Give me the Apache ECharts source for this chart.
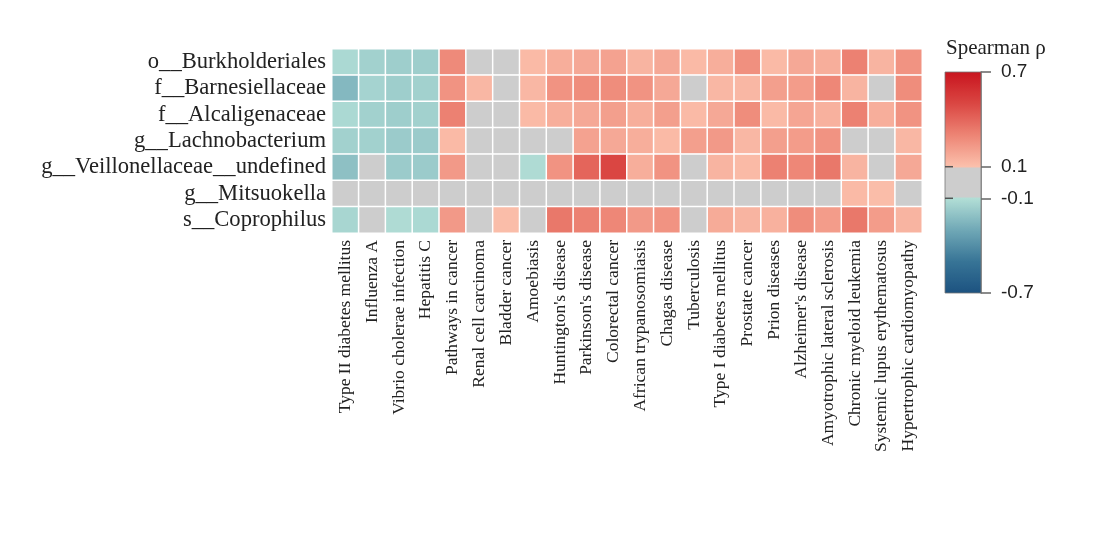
<!DOCTYPE html>
<html>
<head>
<meta charset="utf-8">
<script src="https://cdn.jsdelivr.net/npm/echarts@6/dist/echarts.min.js"></script>
<style>
    html, body { margin: 0; padding: 0; background: #fff; }
    #main { width: 1105px; height: 533px; }
</style>
</head>
<body>
<div id="main"></div>
<script>
// taxa (rows, top to bottom)
var taxa = [
    'o__Burkholderiales',
    'f__Barnesiellaceae',
    'f__Alcaligenaceae',
    'g__Lachnobacterium',
    'g__Veillonellaceae__undefined',
    'g__Mitsuokella',
    's__Coprophilus'
];

// KEGG disease pathways (columns)
var diseases = [
    'Type II diabetes mellitus', 'Influenza A', 'Vibrio cholerae infection', 'Hepatitis C',
    'Pathways in cancer', 'Renal cell carcinoma', 'Bladder cancer', 'Amoebiasis',
    "Huntington's disease", "Parkinson's disease", 'Colorectal cancer',
    'African trypanosomiasis', 'Chagas disease', 'Tuberculosis', 'Type I diabetes mellitus',
    'Prostate cancer', 'Prion diseases', "Alzheimer's disease",
    'Amyotrophic lateral sclerosis', 'Chronic myeloid leukemia',
    'Systemic lupus erythematosus', 'Hypertrophic cardiomyopathy'
];

// spearman rho per taxon, one value per disease
var burkholderiales = [-0.12, -0.15, -0.16, -0.16, 0.28, 0.04, 0.02, 0.12, 0.16, 0.18, 0.20, 0.14, 0.18, 0.12, 0.16, 0.26, 0.12, 0.18, 0.16, 0.31, 0.14, 0.25];
var barnesiellaceae = [-0.24, -0.14, -0.16, -0.15, 0.25, 0.13, 0.03, 0.13, 0.25, 0.27, 0.27, 0.25, 0.18, 0.05, 0.13, 0.13, 0.21, 0.22, 0.29, 0.14, 0.04, 0.27];
var alcaligenaceae = [-0.12, -0.15, -0.16, -0.15, 0.31, 0.03, 0.02, 0.12, 0.16, 0.18, 0.21, 0.16, 0.21, 0.12, 0.18, 0.27, 0.12, 0.19, 0.15, 0.31, 0.16, 0.25];
var lachnobacterium = [-0.15, -0.15, -0.17, -0.17, 0.12, 0.03, 0.01, 0.04, 0.06, 0.20, 0.18, 0.16, 0.12, 0.21, 0.23, 0.13, 0.21, 0.22, 0.25, 0.05, 0.03, 0.13];
var veillonellaceae = [-0.21, 0.02, -0.17, -0.17, 0.23, 0.04, 0.02, -0.11, 0.25, 0.40, 0.50, 0.16, 0.25, 0.03, 0.14, 0.12, 0.31, 0.29, 0.34, 0.14, 0.05, 0.18];
var mitsuokella = [-0.03, -0.02, -0.04, -0.03, 0.02, 0.01, 0.03, -0.01, 0.05, 0.04, 0.06, 0.03, 0.04, 0.02, 0.05, 0.03, 0.06, 0.07, 0.08, 0.12, 0.11, 0.06];
var coprophilus = [-0.13, 0.02, -0.11, -0.12, 0.23, 0.03, 0.11, 0.04, 0.34, 0.31, 0.29, 0.23, 0.25, 0.05, 0.17, 0.14, 0.15, 0.27, 0.22, 0.34, 0.22, 0.14];

var rhoRows = [burkholderiales, barnesiellaceae, alcaligenaceae, lachnobacterium, veillonellaceae, mitsuokella, coprophilus];

// colour bar ticks
var barTicks = [0.7, 0.1, -0.1, -0.7];

// colour anchors of the scale
var blueStops = [
    [-0.7, [28, 82, 128]],
    [-0.5, [55, 116, 150]],
    [-0.3, [112, 168, 182]],
    [-0.1, [178, 222, 214]]
];
var redStops = [
    [0.1, [251, 192, 172]],
    [0.3, [237, 132, 116]],
    [0.5, [218, 70, 66]],
    [0.7, [200, 20, 30]]
];
var GRAY = 'rgb(205,205,205)';

function interp(stops, v) {
    for (var i = 0; i < stops.length - 1; i++) {
        var a = stops[i], b = stops[i + 1];
        if (v >= a[0] && v <= b[0]) {
            var t = (v - a[0]) / (b[0] - a[0]);
            var c = [0, 1, 2].map(function (k) {
                return Math.round(a[1][k] + (b[1][k] - a[1][k]) * t);
            });
            return 'rgb(' + c.join(',') + ')';
        }
    }
    return GRAY;
}

function colorAt(v) {
    if (v > -0.1 + 1e-9 && v < 0.1 - 1e-9) {
        return GRAY;
    }
    return v < 0 ? interp(blueStops, v) : interp(redStops, v);
}

var scaleColors = [];
var gradientStops = [];
for (var i = -70; i <= 70; i++) {
    var v = i / 100;
    scaleColors.push(colorAt(v));
    gradientStops.push({ offset: (0.7 - v) / 1.4, color: colorAt(v) });
}
gradientStops.sort(function (a, b) { return a.offset - b.offset; });

var heatData = [];
rhoRows.forEach(function (row, r) {
    row.forEach(function (val, c) {
        heatData.push([c, r, val]);
    });
});

var serif = '"Liberation Serif", "Times New Roman", serif';
var sans = '"Liberation Sans", Arial, sans-serif';

var chart = echarts.init(document.getElementById('main'), null, { renderer: 'canvas' });

var option = {
    backgroundColor: '#ffffff',
    animation: false,
    title: {
        text: 'Spearman ρ',
        left: 941,
        top: 33,
        textStyle: { fontFamily: serif, fontSize: 21, fontWeight: 'normal', color: '#222' }
    },
    grid: [
        { left: 332, top: 49, width: 590, height: 184 },
        { left: 945, top: 72, width: 36, height: 221 }
    ],
    xAxis: [
        {
            type: 'category',
            data: diseases,
            gridIndex: 0,
            axisLine: { show: false },
            axisTick: { show: false },
            splitLine: { show: false },
            axisLabel: {
                interval: 0,
                rotate: 90,
                margin: 7,
                fontFamily: serif,
                fontSize: 17.5,
                color: '#222'
            }
        },
        { type: 'value', gridIndex: 1, min: 0, max: 1, show: false }
    ],
    yAxis: [
        {
            type: 'category',
            data: taxa,
            inverse: true,
            gridIndex: 0,
            axisLine: { show: false },
            axisTick: { show: false },
            splitLine: { show: false },
            axisLabel: {
                interval: 0,
                margin: 6,
                fontFamily: serif,
                fontSize: 22.6,
                color: '#222'
            }
        },
        {
            type: 'value',
            gridIndex: 1,
            min: -0.7,
            max: 0.7,
            position: 'right',
            axisLine: { show: true, onZero: false, lineStyle: { color: '#777', width: 1.5 } },
            splitLine: { show: false },
            axisTick: {
                show: true,
                customValues: barTicks,
                length: 10,
                lineStyle: { color: '#666', width: 1.5 }
            },
            axisLabel: {
                customValues: barTicks,
                margin: 20,
                fontFamily: sans,
                fontSize: 19,
                color: '#222',
                formatter: function (val) { return String(val); }
            }
        }
    ],
    visualMap: {
        type: 'continuous',
        show: false,
        min: -0.7,
        max: 0.7,
        seriesIndex: 0,
        inRange: { color: scaleColors }
    },
    series: [
        {
            type: 'heatmap',
            xAxisIndex: 0,
            yAxisIndex: 0,
            data: heatData,
            itemStyle: { borderColor: '#ffffff', borderWidth: 1.5 },
            emphasis: { disabled: true }
        },
        {
            type: 'custom',
            xAxisIndex: 1,
            yAxisIndex: 1,
            silent: true,
            z: 1,
            data: [[0, -0.7, 1, 0.7]],
            renderItem: function (params, api) {
                var p1 = api.coord([0, 0.7]);
                var p2 = api.coord([1, -0.7]);
                var children = [{
                    type: 'rect',
                    shape: { x: p1[0], y: p1[1], width: p2[0] - p1[0], height: p2[1] - p1[1] },
                    style: {
                        fill: { type: 'linear', x: 0, y: 0, x2: 0, y2: 1, colorStops: gradientStops },
                        stroke: '#777',
                        lineWidth: 0.8
                    }
                }];
                [0.1, -0.1].forEach(function (t) {
                    var p = api.coord([0, t]);
                    children.push({
                        type: 'line',
                        shape: { x1: p1[0], y1: p[1], x2: p1[0] + 8, y2: p[1] },
                        style: { stroke: '#555', lineWidth: 1.5 }
                    });
                });
                return { type: 'group', children: children };
            }
        }
    ]
};

chart.setOption(option);
</script>
</body>
</html>
